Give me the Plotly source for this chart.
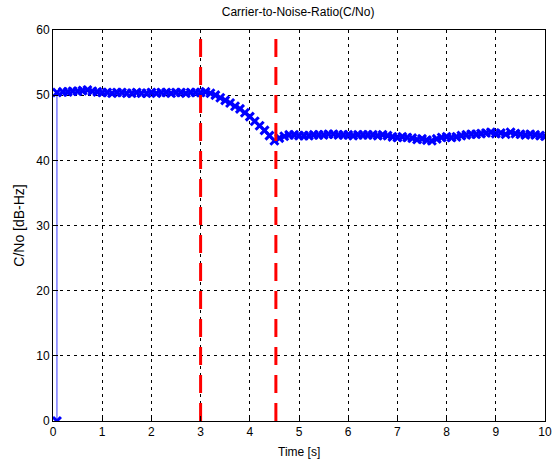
import plotly.graph_objects as go

# C/No samples (time in seconds, value in dB-Hz)
time_s = [0.08] + [round(0.1 * i, 1) for i in range(1, 101)]
time_s[1] = 0.08
cn0 = [0.0,
       50.4, 50.5, 50.5, 50.6, 50.6, 50.7, 50.8, 50.6, 50.5, 50.4,   # 0.1-1.0
       50.4, 50.3, 50.4, 50.4, 50.3, 50.3, 50.4, 50.3, 50.3, 50.4,   # 1.1-2.0
       50.3, 50.4, 50.4, 50.3, 50.4, 50.4, 50.3, 50.4, 50.4, 50.4,   # 2.1-3.0
       50.5, 50.3, 50.0, 49.6, 49.2, 48.8, 48.3, 47.9, 47.3, 46.7,   # 3.1-4.0
       46.0, 45.3, 44.6, 43.8, 43.0, 43.4, 43.7, 43.9, 43.9, 43.8,   # 4.1-5.0
       43.8, 43.8, 43.9, 43.9, 43.9, 44.0, 44.0, 43.9, 43.9, 43.9,   # 5.1-6.0
       43.8, 43.9, 43.9, 43.9, 43.9, 43.8, 43.9, 43.8, 43.6, 43.5,   # 6.1-7.0
       43.6, 43.5, 43.4, 43.2, 43.3, 43.1, 43.0, 43.3, 43.5, 43.6,   # 7.1-8.0
       43.5, 43.6, 43.8, 43.9, 44.0, 44.0, 44.1, 44.2, 44.3, 44.1,   # 8.1-9.0
       44.2, 44.0, 44.3, 44.1, 44.0, 43.9, 44.0, 43.9, 43.8, 43.7]   # 9.1-10.0

# Event markers (s)
event_times = [3.0, 4.53]

fig = go.Figure()
fig.add_trace(go.Scatter(
    x=time_s, y=cn0, mode="lines+markers",
    line=dict(color="#3a3aff", width=1),
    marker=dict(symbol="x-thin", size=8, line=dict(color="#0000ff", width=3)),
    showlegend=False,
))
for t in event_times:
    fig.add_trace(go.Scatter(
        x=[t, t], y=[0, 60], mode="lines",
        line=dict(color="#ff0000", width=3, dash="18px,10px"),
        showlegend=False,
    ))

axis_common = dict(
    showgrid=True, gridcolor="#000000", griddash="3px,4px", gridwidth=1,
    showline=True, linecolor="#000000", linewidth=1, mirror=True,
    ticks="inside", ticklen=5, tickcolor="#000000",
    zeroline=False, tickfont=dict(size=12, color="#000000"),
    automargin=False,
)

fig.update_layout(
    width=552, height=465,
    margin=dict(l=53, r=7, t=30, b=44),
    paper_bgcolor="white", plot_bgcolor="white",
    font=dict(family="Liberation Sans, Arial, sans-serif", size=12, color="#000000"),
    title=dict(text="Carrier-to-Noise-Ratio(C/No)", x=0.54, xanchor="center",
               y=0.975, yanchor="middle", font=dict(size=12)),
    xaxis=dict(range=[0, 10], dtick=1, **axis_common),
    yaxis=dict(range=[0, 60], dtick=10,
               title=dict(text="C/No [dB-Hz]", standoff=8), **axis_common),
    annotations=[dict(text="Time [s]", xref="paper", yref="paper",
                      x=0.5, y=-0.079, xanchor="center", yanchor="middle",
                      showarrow=False, font=dict(size=12))],
)

fig.write_html("out.html")
